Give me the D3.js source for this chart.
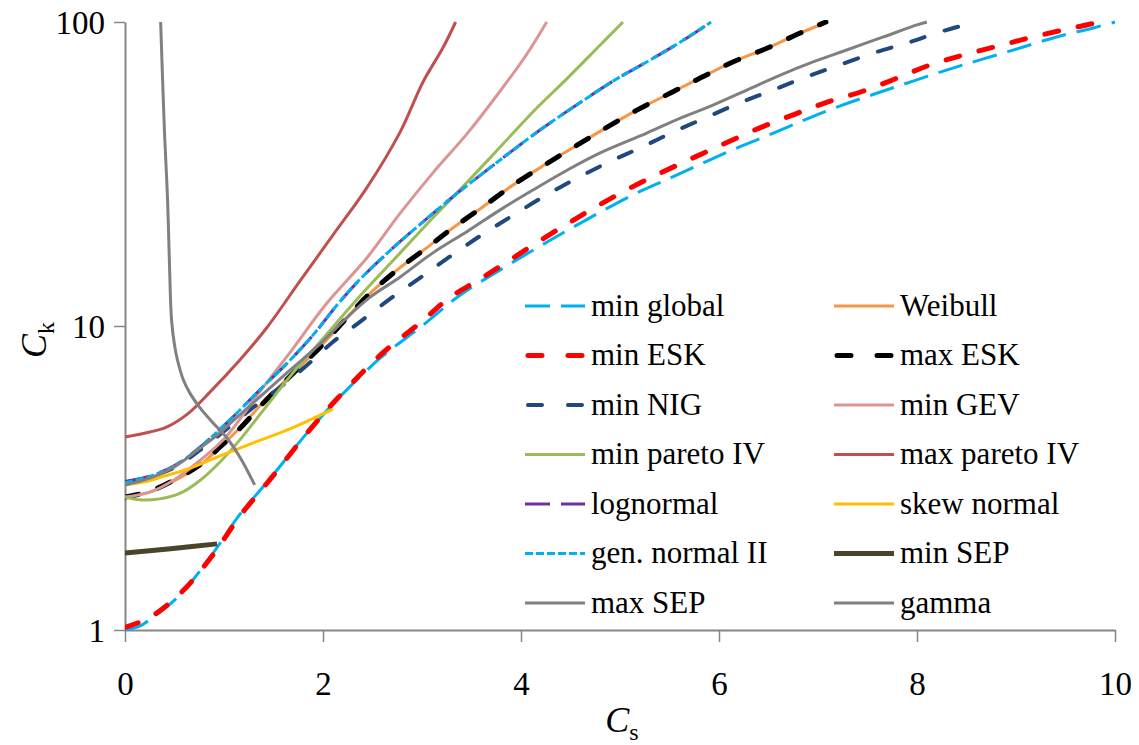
<!DOCTYPE html>
<html>
<head>
<meta charset="utf-8">
<script src="https://cdn.jsdelivr.net/npm/d3@7"></script>
<style>
  body { margin: 0; background: #fff; }
  svg { display: block; font-family: "Liberation Serif", "DejaVu Serif", serif; }
</style>
</head>
<body>
<svg id="chart" width="1139" height="745"></svg>
<script>
// [Cs, Ck] pairs
var minGlobal = [[0,1.00],[0.15,1.03],[0.28,1.10],[0.46,1.22],[0.63,1.39],[0.89,1.79],[1.16,2.40],[1.47,3.16],[1.84,4.45],[2.14,5.71],[2.58,7.85],[3.0,10.0],[3.38,12.6],[3.79,15.3],[4.19,18.3],[4.6,21.8],[5.13,27.0],[5.51,30.7],[5.84,34.4],[6.18,38.5],[6.55,43.1],[6.89,48.0],[7.22,52.9],[7.6,58.4],[7.96,63.9],[8.33,70.0],[8.67,75.6],[9.04,82.1],[9.41,89.3],[9.78,95.6],[10.0,100]];
var weibull = [[0,2.74],[0.25,2.84],[0.51,3.11],[0.76,3.49],[0.96,4.0],[1.16,4.62],[1.39,5.58],[1.7,7.01],[1.97,8.53],[2.27,10.9],[2.44,12.5],[2.75,15.3],[3.05,18.1],[3.31,21.0],[3.61,24.6],[3.92,29.1],[4.24,33.9],[4.57,39.4],[4.87,45.1],[5.17,51.3],[5.51,58.4],[5.81,65.4],[6.14,73.9],[6.49,82.1],[6.82,92.0],[7.1,100]];
var minESK = [[0,1.02],[0.25,1.10],[0.56,1.32],[0.89,1.77],[1.16,2.37],[1.47,3.14],[1.84,4.45],[2.14,5.75],[2.58,8.03],[2.99,10.3],[3.28,12.4],[3.56,14.1],[3.84,16.1],[4.16,18.8],[4.47,21.7],[4.77,24.8],[5.1,28.4],[5.43,32.1],[5.76,36.0],[6.09,40.3],[6.43,45.1],[6.77,49.8],[7.1,54.6],[7.46,59.3],[7.8,65.4],[8.13,72.2],[8.47,77.9],[8.82,83.4],[9.17,89.3],[9.52,94.8],[9.85,100]];
var maxESK = [[0,2.74],[0.25,2.86],[0.51,3.13],[0.76,3.5],[0.96,4.0],[1.16,4.6],[1.39,5.55],[1.7,7.0],[1.97,8.5],[2.27,10.9],[2.44,12.5],[2.75,15.3],[3.05,18.1],[3.31,21.0],[3.61,24.6],[3.92,29.1],[4.24,33.9],[4.57,39.4],[4.87,45.1],[5.17,51.3],[5.51,58.4],[5.81,65.4],[6.14,73.9],[6.49,82.1],[6.82,92.0],[7.08,100]];
var minNIG = [[0,3.07],[0.25,3.19],[0.51,3.44],[0.76,3.91],[0.99,4.48],[1.26,5.29],[1.57,6.30],[1.84,7.44],[2.1,8.86],[2.37,10.3],[2.68,12.3],[2.98,14.4],[3.28,16.9],[3.59,19.8],[3.89,22.8],[4.19,26.2],[4.53,30.2],[4.87,34.4],[5.2,38.5],[5.54,43.5],[5.88,48.7],[6.21,54.2],[6.52,59.3],[6.85,65.4],[7.19,71.7],[7.56,79.1],[7.9,85.3],[8.23,92.7],[8.59,100]];
var minGEV = [[0,2.74],[0.25,2.84],[0.51,3.14],[0.76,3.62],[1.01,4.28],[1.36,6.07],[1.67,8.21],[2.04,11.9],[2.44,16.7],[2.78,23.5],[3.11,31.9],[3.46,43.1],[3.79,59.3],[4.06,78.5],[4.26,100]];
var minPareto4 = [[0,2.74],[0.15,2.68],[0.35,2.70],[0.56,2.82],[0.76,3.11],[0.96,3.57],[1.16,4.22],[1.36,5.1],[1.67,6.85],[1.97,8.86],[2.34,12.2],[2.78,17.4],[3.11,22.7],[3.46,29.8],[3.79,38.8],[4.12,50.6],[4.47,65.4],[4.8,84.0],[5.03,100]];
var maxPareto4 = [[0,4.31],[0.25,4.48],[0.42,4.65],[0.63,5.13],[0.86,6.07],[1.16,7.73],[1.43,9.85],[1.77,14.1],[2.1,19.9],[2.44,28.4],[2.78,43.5],[3.01,63.5],[3.21,82.1],[3.34,100]];
var lognormal = [[0,3.07],[0.25,3.21],[0.51,3.49],[0.76,4.0],[1.09,5.02],[1.36,6.16],[1.64,7.56],[1.9,9.34],[2.14,11.7],[2.37,14.2],[2.71,18.1],[3.01,22.0],[3.31,26.6],[3.62,31.9],[3.92,37.9],[4.22,44.8],[4.53,52.5],[4.93,63.9],[5.27,73.9],[5.61,85.9],[5.92,100]];
var skewNormal = [[0,3.0],[0.2,3.07],[0.4,3.21],[0.66,3.41],[0.96,3.74],[1.29,4.12],[1.64,4.55],[2.1,5.33]];
var genNormal2 = [[0,3.05],[0.25,3.2],[0.51,3.48],[0.76,4.0],[1.09,5.02],[1.36,6.16],[1.64,7.56],[1.9,9.34],[2.14,11.7],[2.37,14.2],[2.71,18.1],[3.01,22.0],[3.31,26.6],[3.62,31.9],[3.92,37.9],[4.22,44.8],[4.53,52.5],[4.93,63.9],[5.27,73.9],[5.61,85.9],[5.92,100]];
var minSEP = [[0,1.79],[0.46,1.85],[0.93,1.92]];
var maxSEP = [[0,3.0],[0.25,3.16],[0.51,3.46],[0.76,3.97],[0.96,4.45],[1.09,4.87],[1.36,5.84],[1.67,7.17],[1.97,8.73],[2.22,10.5],[2.47,12.4],[2.78,14.5],[3.11,17.4],[3.46,20.5],[3.79,24.1],[4.12,28.0],[4.47,32.6],[4.8,37.1],[5.27,43.1],[5.61,48.3],[5.94,53.3],[6.28,59.7],[6.62,66.9],[6.95,73.9],[7.29,80.9],[7.66,89.3],[8.0,97.8],[8.1,100]];
var gamma = [[0.36,100],[0.38,64.4],[0.4,42.5],[0.43,26.0],[0.45,15.6],[0.47,10.5],[0.5,8.66],[0.53,7.73],[0.59,6.64],[0.66,5.98],[0.76,5.37],[0.89,4.8],[1.03,4.28],[1.16,3.71],[1.31,3.0]];

var xTicks = [0, 2, 4, 6, 8, 10];
var yTicks = [1, 10, 100];

// series in Excel order (legend reads row by row, two columns)
var series = [
	{ name: "min global", data: minGlobal, color: "#00B0F0", w: 3, dash: "25,11", cap: "butt" },
	{ name: "Weibull", data: weibull, color: "#F79646", w: 3, dash: null },
	{ name: "min ESK", data: minESK, color: "#FF0000", w: 5, dash: "14,20", cap: "round" },
	{ name: "max ESK", data: maxESK, color: "#000000", w: 5, dash: "14,20", cap: "round" },
	{ name: "min NIG", data: minNIG, color: "#1F497D", w: 4, dash: "14,21", cap: "round" },
	{ name: "min GEV", data: minGEV, color: "#D99694", w: 3, dash: null },
	{ name: "min pareto IV", data: minPareto4, color: "#9BBB59", w: 3, dash: null },
	{ name: "max pareto IV", data: maxPareto4, color: "#C0504D", w: 3, dash: null },
	{ name: "lognormal", data: lognormal, color: "#7030A0", w: 3, dash: "25,11", cap: "butt" },
	{ name: "skew normal", data: skewNormal, color: "#FFC000", w: 3, dash: null },
	{ name: "gen. normal II", data: genNormal2, color: "#00B0F0", w: 3, dash: "8,3", cap: "butt" },
	{ name: "min SEP", data: minSEP, color: "#4A452A", w: 5, dash: null },
	{ name: "max SEP", data: maxSEP, color: "#808080", w: 3, dash: null },
	{ name: "gamma", data: gamma, color: "#808080", w: 3, dash: null }
];

var svg = d3.select("#chart");
var plotL = 125, plotR = 1115, plotT = 22, plotB = 630;

var x = d3.scaleLinear().domain([0, 10]).range([plotL, plotR]);
var y = d3.scaleLog().domain([1, 100]).range([plotB, plotT]);

svg.append("defs").append("clipPath").attr("id", "plot")
	.append("rect").attr("x", plotL).attr("y", plotT - 2).attr("width", plotR - plotL + 4).attr("height", plotB - plotT + 4);

var axisColor = "#868686";

// x axis
var xAxis = svg.append("g").attr("transform", "translate(0," + plotB + ")")
	.call(d3.axisBottom(x).tickValues(xTicks).tickSize(12).tickSizeOuter(0).tickFormat(d3.format("d")))
	.attr("font-family", null).attr("font-size", null);
xAxis.select(".domain").attr("stroke", axisColor).attr("stroke-width", 2);
xAxis.selectAll(".tick line").attr("stroke", axisColor).attr("stroke-width", 1.5);
xAxis.selectAll(".tick text").attr("fill", "#000").style("font-size", "33px").attr("y", 0).attr("dy", 65);

// y axis
var yAxis = svg.append("g").attr("transform", "translate(" + plotL + ",0)")
	.call(d3.axisLeft(y).tickValues(yTicks).tickSize(11).tickSizeOuter(0).tickFormat(d3.format("d")))
	.attr("font-family", null).attr("font-size", null);
yAxis.select(".domain").attr("stroke", axisColor).attr("stroke-width", 2);
yAxis.selectAll(".tick line").attr("stroke", axisColor).attr("stroke-width", 1.5);
yAxis.selectAll(".tick text").attr("fill", "#000").style("font-size", "33px").attr("x", -20).attr("dy", "0.34em");

// axis titles
svg.append("text").attr("x", 622).attr("y", 732).attr("text-anchor", "middle").style("font-size", "36px")
	.html('<tspan font-style="italic">C</tspan><tspan font-size="24px" dy="8">s</tspan>');
svg.append("text").attr("transform", "translate(46,340) rotate(-90)").attr("text-anchor", "middle").style("font-size", "36px")
	.html('<tspan font-style="italic">C</tspan><tspan font-size="24px" dy="8">k</tspan>');

// curves
var line = d3.line()
	.x(function (d) { return x(d[0]); })
	.y(function (d) { return y(d[1]); })
	.curve(d3.curveCatmullRom.alpha(0.5));

var plot = svg.append("g").attr("clip-path", "url(#plot)");
plot.selectAll(".curve")
	.data(series)
	.enter()
	.append("path")
	.attr("class", "curve")
	.attr("d", function (d) { return line(d.data); })
	.attr("fill", "none")
	.attr("stroke", function (d) { return d.color; })
	.attr("stroke-width", function (d) { return d.w; })
	.attr("stroke-dasharray", function (d) { return d.dash; })
	.attr("stroke-linecap", function (d) { return d.cap || "butt"; })
	.attr("stroke-linejoin", "round");

// legend, two columns
var legendCols = [525, 834], rowY0 = 306, rowGap = 49.5;
var legend = svg.append("g").selectAll(".legend")
	.data(series)
	.enter()
	.append("g")
	.attr("class", "legend")
	.attr("transform", function (d, i) {
		return "translate(" + legendCols[i % 2] + "," + (rowY0 + Math.floor(i / 2) * rowGap) + ")";
	});

legend.append("line")
	.attr("x1", function (d) { return d.cap === "round" ? 3 : 0; })
	.attr("x2", function (d) { return d.cap === "round" ? 57 : 60; })
	.attr("stroke", function (d) { return d.color; })
	.attr("stroke-width", function (d) { return d.w; })
	.attr("stroke-dasharray", function (d) { return d.cap === "round" ? "14,26" : d.dash; })
	.attr("stroke-linecap", function (d) { return d.cap || "butt"; });

legend.append("text")
	.attr("x", 66)
	.attr("dy", "0.32em")
	.style("font-size", "31px")
	.text(function (d) { return d.name; });
</script>
</body>
</html>
